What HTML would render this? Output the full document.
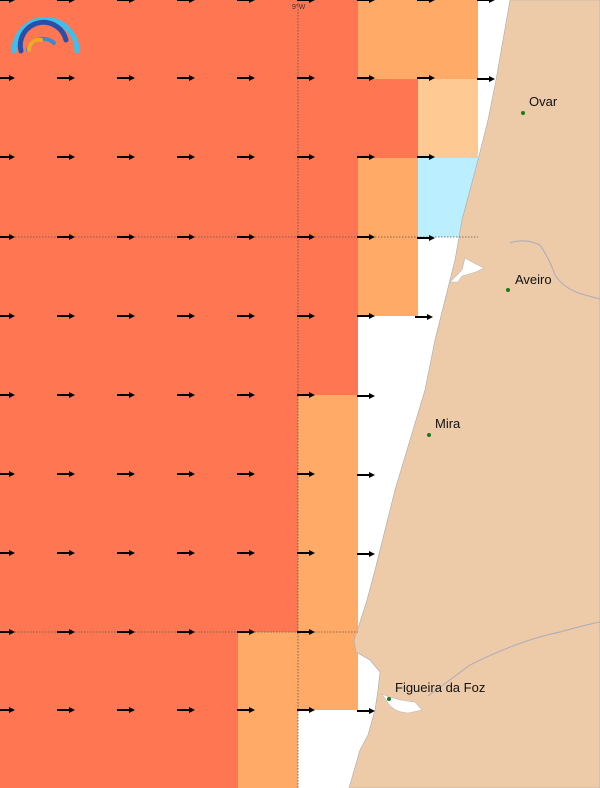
<!DOCTYPE html><html><head><style>body{margin:0}svg{display:block}</style></head><body>
<svg width="600" height="788" xmlns="http://www.w3.org/2000/svg" font-family="Liberation Sans, DejaVu Sans, sans-serif">
<rect width="600" height="788" fill="#fff"/>
<g shape-rendering="crispEdges">
<rect x="0" y="0" width="358" height="79" fill="#FF7752"/><rect x="358" y="0" width="120" height="79" fill="#FFAA66"/>
<rect x="0" y="79" width="418" height="79" fill="#FF7752"/><rect x="418" y="79" width="60" height="79" fill="#FFC994"/>
<rect x="0" y="158" width="358" height="158" fill="#FF7752"/><rect x="358" y="158" width="60" height="158" fill="#FFAA66"/><rect x="418" y="158" width="60" height="79" fill="#BBEEFF"/>
<rect x="0" y="316" width="358" height="79" fill="#FF7752"/>
<rect x="0" y="395" width="298" height="237" fill="#FF7752"/><rect x="298" y="395" width="60" height="237" fill="#FFAA66"/>
<rect x="0" y="632" width="238" height="156" fill="#FF7752"/><rect x="238" y="632" width="120" height="78" fill="#FFAA66"/><rect x="238" y="710" width="60" height="78" fill="#FFAA66"/>
</g>
<path d="M510,0 L600,0 L600,788 L349,788 L360,750 L368,735 L375,710 L378,690 L380,672 L370,660 L356,652 L354,640 L360,622 L367,600 L375,570 L385,530 L395,490 L410,440 L425,390 L435,340 L445,300 L455,260 L462,220 L470,190 L478,160 L488,120 L496,80 L503,40 Z" fill="#EDCBA8" stroke="#aaa" stroke-width="0.6"/>
<path d="M450,282 L462,270 L465,258 L472,262 L478,265 L484,268 L476,272 L462,276 L458,282 Z" fill="#fff" stroke="#bbb" stroke-width="0.6"/>
<path d="M382,694 Q395,700 415,702 L422,710 L408,713 Q392,712 386,700 Z" fill="#fff" stroke="#bbb" stroke-width="0.6"/>
<path d="M510,243 Q525,238 540,245 Q550,260 555,275 Q565,290 585,295 L600,299" fill="none" stroke="#aab" stroke-width="1"/>
<path d="M428,696 Q450,680 470,665 Q520,640 560,632 Q585,625 600,622" fill="none" stroke="#aab" stroke-width="1"/>
<g stroke="#555" stroke-width="0.8" stroke-dasharray="1.5,1.5"><line x1="298" y1="0" x2="298" y2="788"/><line x1="0" y1="237" x2="478" y2="237"/><line x1="0" y1="632" x2="358" y2="632"/></g>
<text x="292" y="9" font-size="7" fill="#333">9°W</text>
<defs><g id="ar"><path d="M-3,0 h13" stroke="#000" stroke-width="2"/><path d="M9,-3 L15,0 L9,3 Z" fill="#000"/></g></defs>
<g>
<use href="#ar" x="0" y="0"/><use href="#ar" x="60" y="0"/><use href="#ar" x="120" y="0"/><use href="#ar" x="180" y="0"/><use href="#ar" x="240" y="0"/><use href="#ar" x="300" y="0"/><use href="#ar" x="360" y="0"/><use href="#ar" x="420" y="0"/><use href="#ar" x="480" y="0"/>
<use href="#ar" x="0" y="78"/><use href="#ar" x="60" y="78"/><use href="#ar" x="120" y="78"/><use href="#ar" x="180" y="78"/><use href="#ar" x="240" y="78"/><use href="#ar" x="300" y="78"/><use href="#ar" x="360" y="78"/><use href="#ar" x="420" y="78"/><use href="#ar" x="480" y="79"/>
<use href="#ar" x="0" y="157"/><use href="#ar" x="60" y="157"/><use href="#ar" x="120" y="157"/><use href="#ar" x="180" y="157"/><use href="#ar" x="240" y="157"/><use href="#ar" x="300" y="157"/><use href="#ar" x="360" y="157"/><use href="#ar" x="420" y="157"/>
<use href="#ar" x="0" y="237"/><use href="#ar" x="60" y="237"/><use href="#ar" x="120" y="237"/><use href="#ar" x="180" y="237"/><use href="#ar" x="240" y="237"/><use href="#ar" x="300" y="237"/><use href="#ar" x="360" y="237"/><use href="#ar" x="420" y="238"/>
<use href="#ar" x="0" y="316"/><use href="#ar" x="60" y="316"/><use href="#ar" x="120" y="316"/><use href="#ar" x="180" y="316"/><use href="#ar" x="240" y="316"/><use href="#ar" x="300" y="316"/><use href="#ar" x="360" y="316"/><use href="#ar" x="418" y="317"/>
<use href="#ar" x="0" y="395"/><use href="#ar" x="60" y="395"/><use href="#ar" x="120" y="395"/><use href="#ar" x="180" y="395"/><use href="#ar" x="240" y="395"/><use href="#ar" x="300" y="395"/><use href="#ar" x="360" y="396"/>
<use href="#ar" x="0" y="474"/><use href="#ar" x="60" y="474"/><use href="#ar" x="120" y="474"/><use href="#ar" x="180" y="474"/><use href="#ar" x="240" y="474"/><use href="#ar" x="300" y="474"/><use href="#ar" x="360" y="475"/>
<use href="#ar" x="0" y="553"/><use href="#ar" x="60" y="553"/><use href="#ar" x="120" y="553"/><use href="#ar" x="180" y="553"/><use href="#ar" x="240" y="553"/><use href="#ar" x="300" y="553"/><use href="#ar" x="360" y="554"/>
<use href="#ar" x="0" y="632"/><use href="#ar" x="60" y="632"/><use href="#ar" x="120" y="632"/><use href="#ar" x="180" y="632"/><use href="#ar" x="240" y="632"/><use href="#ar" x="300" y="632"/>
<use href="#ar" x="0" y="710"/><use href="#ar" x="60" y="710"/><use href="#ar" x="120" y="710"/><use href="#ar" x="180" y="710"/><use href="#ar" x="240" y="710"/><use href="#ar" x="300" y="710"/><use href="#ar" x="360" y="711"/>
</g>
<g fill="none" stroke-linecap="round">
<path d="M14,51 A31,31 0 0 1 77,51" stroke="#3CC0F0" stroke-width="5"/>
<path d="M21,51 A22,22 0 0 1 66,40" stroke="#2B4FA8" stroke-width="5"/>
<path d="M28,50 A15,13 0 0 1 54,43" stroke="#3A8AD0" stroke-width="4"/>
<path d="M29,50 A10,10 0 0 1 41,40" stroke="#F5A623" stroke-width="4"/>
</g>
<g fill="#1a7a1a"><circle cx="523" cy="113" r="2"/><circle cx="508" cy="290" r="2"/><circle cx="429" cy="435" r="2"/><circle cx="389" cy="699" r="2"/></g>
<g font-size="13" fill="#111"><text x="529" y="106">Ovar</text><text x="515" y="284">Aveiro</text><text x="435" y="428">Mira</text><text x="395" y="692">Figueira da Foz</text></g>
</svg>
</body></html>
